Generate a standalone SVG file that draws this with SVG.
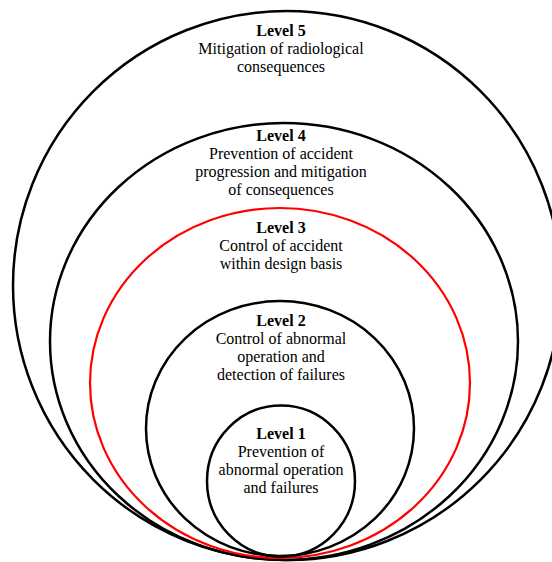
<svg xmlns="http://www.w3.org/2000/svg" width="552" height="562" viewBox="0 0 552 562">
  <style>
    .ring { fill: none; stroke: #000; stroke-width: 2.5; }
    .ring.red { stroke: #ff0000; stroke-width: 2.2; }
    text { font-family: "Liberation Serif", "Times New Roman", serif; font-size: 16px; fill: #000; text-anchor: middle; }
    .title { font-weight: bold; }
  </style>
  <rect width="552" height="562" fill="#fff"/>

  <g id="level5">
    <ellipse class="ring" cx="287" cy="285.5" rx="274" ry="274.5"/>
    <text x="281" y="36" class="title">Level 5</text>
    <text x="281" y="54">Mitigation of radiological</text>
    <text x="281" y="72">consequences</text>
  </g>

  <g id="level4">
    <ellipse class="ring" cx="284" cy="341.5" rx="234" ry="218.5"/>
    <text x="281" y="141" class="title">Level 4</text>
    <text x="281" y="159">Prevention of accident</text>
    <text x="281" y="177">progression and mitigation</text>
    <text x="281" y="195">of consequences</text>
  </g>

  <g id="level3">
    <ellipse class="ring red" cx="280" cy="383" rx="190" ry="175"/>
    <text x="281" y="233" class="title">Level 3</text>
    <text x="281" y="251">Control of accident</text>
    <text x="281" y="269">within design basis</text>
  </g>

  <g id="level2">
    <ellipse class="ring" cx="280" cy="428.5" rx="134" ry="127.5"/>
    <text x="281" y="326" class="title">Level 2</text>
    <text x="281" y="344">Control of abnormal</text>
    <text x="281" y="362">operation and</text>
    <text x="281" y="380">detection of failures</text>
  </g>

  <g id="level1">
    <ellipse class="ring" cx="281" cy="481" rx="74" ry="75.5"/>
    <text x="281" y="439" class="title">Level 1</text>
    <text x="281" y="457">Prevention of</text>
    <text x="281" y="475">abnormal operation</text>
    <text x="281" y="493">and failures</text>
  </g>

  <g id="connectors"/>
</svg>
